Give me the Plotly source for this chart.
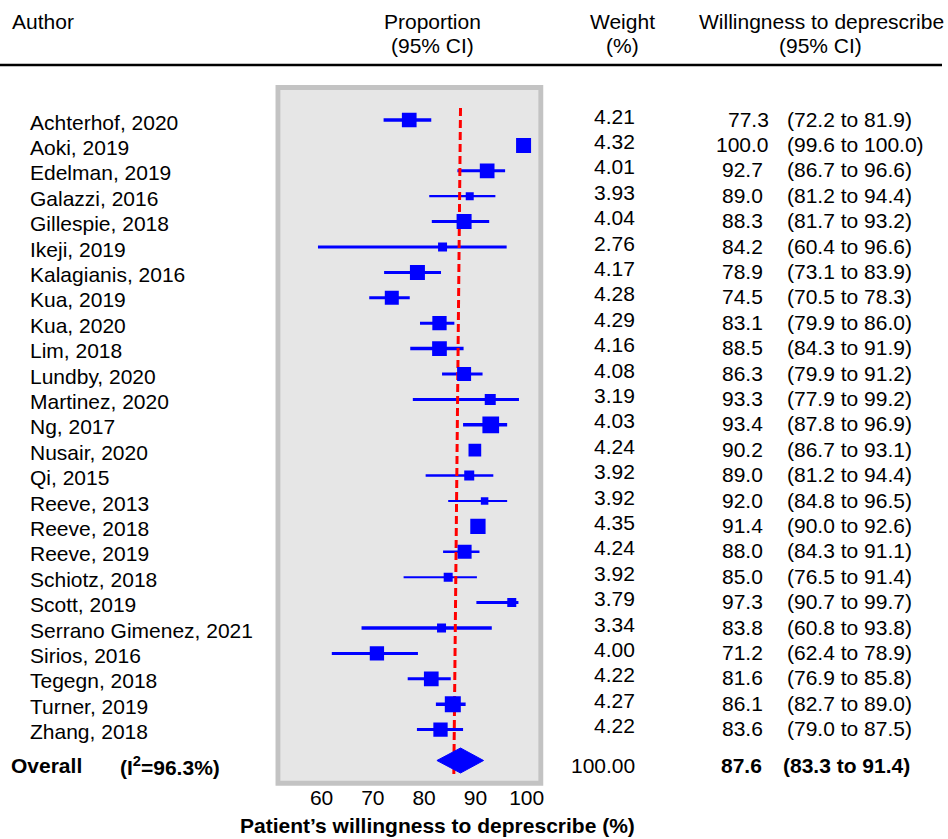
import plotly.graph_objects as go

# ---------------- data ----------------
authors = ["Achterhof, 2020", "Aoki, 2019", "Edelman, 2019", "Galazzi, 2016", "Gillespie, 2018",
           "Ikeji, 2019", "Kalagianis, 2016", "Kua, 2019", "Kua, 2020", "Lim, 2018",
           "Lundby, 2020", "Martinez, 2020", "Ng, 2017", "Nusair, 2020", "Qi, 2015",
           "Reeve, 2013", "Reeve, 2018", "Reeve, 2019", "Schiotz, 2018", "Scott, 2019",
           "Serrano Gimenez, 2021", "Sirios, 2016", "Tegegn, 2018", "Turner, 2019", "Zhang, 2018"]
weights = ["4.21", "4.32", "4.01", "3.93", "4.04", "2.76", "4.17", "4.28", "4.29", "4.16",
           "4.08", "3.19", "4.03", "4.24", "3.92", "3.92", "4.35", "4.24", "3.92", "3.79",
           "3.34", "4.00", "4.22", "4.27", "4.22"]
est_text = ["77.3", "100.0", "92.7", "89.0", "88.3", "84.2", "78.9", "74.5", "83.1", "88.5",
            "86.3", "93.3", "93.4", "90.2", "89.0", "92.0", "91.4", "88.0", "85.0", "97.3",
            "83.8", "71.2", "81.6", "86.1", "83.6"]
ci_text = ["(72.2 to 81.9)", "(99.6 to 100.0)", "(86.7 to 96.6)", "(81.2 to 94.4)", "(81.7 to 93.2)",
           "(60.4 to 96.6)", "(73.1 to 83.9)", "(70.5 to 78.3)", "(79.9 to 86.0)", "(84.3 to 91.9)",
           "(79.9 to 91.2)", "(77.9 to 99.2)", "(87.8 to 96.9)", "(86.7 to 93.1)", "(81.2 to 94.4)",
           "(84.8 to 96.5)", "(90.0 to 92.6)", "(84.3 to 91.1)", "(76.5 to 91.4)", "(90.7 to 99.7)",
           "(60.8 to 93.8)", "(62.4 to 78.9)", "(76.9 to 85.8)", "(82.7 to 89.0)", "(79.0 to 87.5)"]

# plotted point estimates and CI limits (as drawn in the figure)
est = [77.1, 99.4, 92.3, 88.9, 87.8, 83.6, 78.7, 73.7, 83.0, 83.0,
       87.8, 92.9, 93.0, 89.9, 88.8, 91.8, 90.5, 87.9, 84.7, 97.1,
       83.4, 70.8, 81.4, 85.6, 83.2]
lo = [72.1, 99.3, 86.5, 81.0, 81.5, 59.3, 72.2, 69.3, 79.2, 77.3,
      83.5, 77.8, 87.6, 88.9, 80.3, 84.7, 89.8, 83.7, 76.0, 90.2,
      67.8, 62.0, 76.8, 82.3, 78.6]
hi = [81.4, 99.6, 95.8, 93.9, 92.7, 96.1, 83.3, 77.2, 85.9, 87.7,
      91.4, 98.5, 96.2, 91.0, 93.5, 96.2, 91.2, 90.8, 90.3, 98.4,
      93.2, 78.8, 85.2, 88.1, 87.6]

overall_est, overall_lo, overall_hi = 87.1, 82.5, 91.6
overall_weight = "100.00"
overall_est_text = "87.6"
overall_ci_text = "(83.3 to 91.4)"
overall_i2 = "96.3%"
ref_line_x = [87.1, 85.8]

x_ticks = [60, 70, 80, 90, 100]

# ---------------- styles ----------------
square_px = [14.7, 15, 14.7, 8, 15, 9, 15, 14, 14.3, 14.7,
             14, 11, 16.7, 12.7, 10, 7.5, 15.3, 14, 9, 9,
             9, 14.3, 14.7, 16, 14.3]
line_px = [3.3, 3, 3, 2.3, 3, 3, 3, 3, 3, 3.5,
           3, 3, 3.5, 3, 2.5, 2, 3, 2.5, 2, 3,
           3.3, 3, 3, 3.5, 3]

W, H = 948, 839
FONT = "Liberation Sans, Arial, sans-serif"
FS = 21
BLUE = "#0000ff"

# pixel geometry
box_in = (282.3, 541.7, 90.0, 781.0)   # x0, x1, y0(top), y1(bottom)
row0_py, row_step = 120.0, 25.4
x_a, x_b = 14.0, 5.16                  # px = a + b * value

def px_to_val(p):
    return (p - x_a) / x_b

def py_to_row(p):
    return (p - row0_py) / row_step

n = len(authors)
rows = list(range(n))
overall_row = py_to_row(760.5)
text_row_overall = py_to_row(765.5)

fig = go.Figure()

# CI lines
for i in rows:
    fig.add_trace(go.Scatter(x=[lo[i], hi[i]], y=[i, i], mode="lines",
                             line=dict(color=BLUE, width=line_px[i]),
                             hoverinfo="skip", showlegend=False))

# reference line (overall)
fig.add_trace(go.Scatter(x=ref_line_x, y=[py_to_row(108), py_to_row(774)], mode="lines",
                         line=dict(color="#ff0000", width=3, dash="8px,4px"),
                         hoverinfo="skip", showlegend=False))

# squares
fig.add_trace(go.Scatter(x=est, y=rows, mode="markers",
                         marker=dict(symbol="square", size=square_px, color=BLUE,
                                     opacity=1, line=dict(width=0)),
                         hoverinfo="skip", showlegend=False))

# overall diamond
h = 12.5 / row_step
fig.add_trace(go.Scatter(
    x=[overall_lo, overall_est, overall_hi, overall_est, overall_lo],
    y=[overall_row, overall_row - h, overall_row, overall_row + h, overall_row],
    mode="lines", fill="toself", fillcolor=BLUE, line=dict(color=BLUE, width=1),
    hoverinfo="skip", showlegend=False))

ann = []
def px(x):
    return x / W
def py(y):
    return 1 - y / H

def add_text(text, x, y, xanchor="left", yref="paper", bold=False, yshift=0, size=FS):
    ann.append(dict(text=("<b>%s</b>" % text) if bold else text, x=px(x), y=y,
                    xref="paper", yref=yref, xanchor=xanchor, yanchor="middle",
                    showarrow=False, yshift=yshift,
                    font=dict(family=FONT, size=size, color="black")))

# headers
add_text("Author", 10, py(22))
add_text("Proportion", 435, py(22), xanchor="center")
add_text("(95% CI)", 435, py(46), xanchor="center")
add_text("Weight", 626, py(22), xanchor="center")
add_text("(%)", 626, py(46), xanchor="center")
add_text("Willingness to deprescribe", 827, py(22), xanchor="center")
add_text("(95% CI)", 826, py(46), xanchor="center")

# rows
for i in rows:
    add_text(authors[i], 28, i, yref="y", yshift=-2)
    add_text(weights[i], 641, i, xanchor="right", yref="y", yshift=4)
    est_right = 776 if i < 2 else 770
    add_text(est_text[i], est_right, i, xanchor="right", yref="y", yshift=1)
    add_text(ci_text[i], 790, i, yref="y", yshift=1)

# overall row texts
add_text("Overall", 9, text_row_overall, yref="y", bold=True)
add_text("(I<sup>2</sup>=%s)" % overall_i2, 119, text_row_overall, yref="y", bold=True)
add_text(overall_weight, 641, text_row_overall, xanchor="right", yref="y")
add_text(overall_est_text, 769, text_row_overall, xanchor="right", yref="y", bold=True)
add_text(overall_ci_text, 786, text_row_overall, yref="y", bold=True)

# x-axis title
add_text("Patient\u2019s willingness to deprescribe (%)", 440.5, py(825), xanchor="center", bold=True)

shapes = [
    dict(type="line", xref="paper", yref="paper", x0=0, x1=1, y0=py(65), y1=py(65),
         line=dict(color="black", width=2.5)),
    dict(type="rect", xref="paper", yref="paper", x0=px(279.8), x1=px(544.2),
         y0=py(783.3), y1=py(87.5), line=dict(color="#c3c3c3", width=5), layer="above"),
]

fig.update_layout(
    width=W, height=H,
    margin=dict(l=0, r=0, t=0, b=0),
    paper_bgcolor="white", plot_bgcolor="#e6e6e6",
    font=dict(family=FONT, size=FS, color="black"),
    xaxis=dict(domain=[px(box_in[0]), px(box_in[1])],
               range=[px_to_val(box_in[0]), px_to_val(box_in[1])],
               tickvals=x_ticks, ticktext=[str(t) for t in x_ticks],
               showgrid=False, zeroline=False, showline=False,
               ticks="", ticklabelstandoff=2,
               tickfont=dict(family=FONT, size=FS, color="black")),
    yaxis=dict(domain=[py(box_in[3]), py(box_in[2])],
               range=[py_to_row(box_in[3]), py_to_row(box_in[2])],
               showgrid=False, zeroline=False, showline=False, showticklabels=False,
               ticks=""),
    annotations=ann, shapes=shapes,
)

fig.write_html("out.html", config={"displayModeBar": False},
               post_script="document.body.style.margin='0';document.body.style.padding='0';")
